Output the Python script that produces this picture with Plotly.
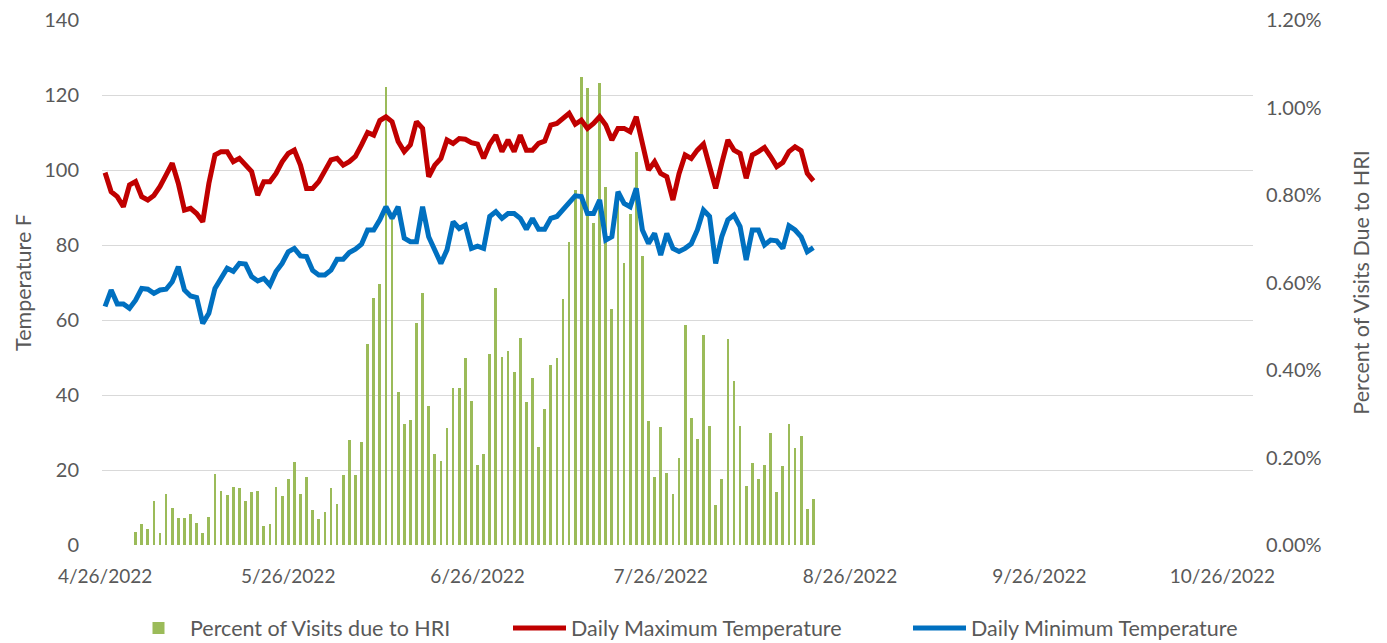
import pandas as pd
import plotly.graph_objects as go

# Daily values, 4/26/2022 .. 8/20/2022
tmax = [99.3, 94.2, 92.9, 90.2, 96.0, 96.9, 92.9, 92.0, 93.2, 95.6,
        98.7, 101.8, 96.4, 89.3, 89.8, 88.4, 86.2, 96.4, 104.0, 104.9,
        104.9, 102.2, 103.1, 101.5, 99.6, 93.3, 96.9, 96.9, 99.1, 102.2,
        104.4, 105.3, 101.3, 95.1, 95.1, 96.9, 99.6, 102.7, 103.1, 101.3,
        102.2, 103.6, 106.7, 110.0, 109.3, 113.2, 114.2, 112.9, 107.6, 104.9,
        106.7, 112.9, 111.1, 98.2, 101.3, 103.1, 108.0, 107.1, 108.4, 108.2,
        107.3, 106.9, 103.1, 106.9, 109.3, 104.9, 108.0, 104.9, 109.3, 105.3,
        105.3, 107.1, 107.7, 112.0, 112.4, 113.8, 115.1, 112.2, 113.3, 111.1,
        112.4, 114.2, 112.0, 108.0, 111.1, 111.1, 110.2, 114.2, 107.6, 100.0,
        102.2, 99.1, 98.2, 92.0, 99.0, 104.0, 103.1, 105.3, 106.9, 100.9,
        95.1, 101.8, 108.0, 105.3, 104.4, 97.8, 104.0, 104.9, 106.0, 103.6,
        100.9, 102.0, 104.9, 106.2, 105.2, 99.1, 97.1]

tmin = [63.6, 68.0, 64.3, 64.3, 63.1, 65.3, 68.4, 68.2, 67.1, 68.0,
        68.2, 70.2, 74.2, 68.0, 66.4, 66.0, 59.1, 61.8, 68.4, 71.1,
        73.8, 73.0, 75.1, 74.9, 71.6, 70.4, 71.1, 69.3, 72.9, 75.1,
        78.2, 79.1, 77.1, 76.9, 73.2, 72.0, 72.0, 73.3, 76.2, 76.2,
        78.0, 78.9, 80.2, 84.0, 84.0, 86.7, 90.2, 87.1, 90.2, 81.8,
        80.9, 80.9, 90.2, 82.2, 78.7, 75.1, 78.7, 86.2, 84.4, 85.3,
        79.1, 79.7, 79.1, 87.6, 88.9, 87.1, 88.4, 88.4, 87.1, 84.2,
        87.1, 84.2, 84.2, 87.1, 87.6, 89.3, 91.1, 93.1, 92.9, 88.4,
        88.4, 92.0, 81.3, 82.2, 94.2, 91.1, 90.2, 95.1, 84.0, 80.4,
        83.1, 77.3, 83.1, 79.1, 78.3, 79.1, 80.3, 84.0, 89.3, 87.6,
        75.1, 82.2, 86.7, 88.0, 84.9, 76.0, 84.0, 84.0, 80.0, 81.3,
        81.1, 79.1, 85.1, 84.0, 82.2, 78.2, 79.3]

# Percent of visits due to HRI (in percent units)
hri_pct = [None, None, None, None, None, 0.030, 0.048, 0.037, 0.101, 0.027,
           0.117, 0.085, 0.061, 0.061, 0.071, 0.050, 0.027, 0.063, 0.162, 0.124,
           0.114, 0.132, 0.130, 0.101, 0.122, 0.124, 0.043, 0.047, 0.132, 0.112,
           0.150, 0.190, 0.117, 0.155, 0.080, 0.059, 0.075, 0.130, 0.094, 0.160,
           0.240, 0.160, 0.235, 0.459, 0.564, 0.597, 1.048, 0.745, 0.350, 0.277,
           0.286, 0.508, 0.575, 0.318, 0.208, 0.193, 0.267, 0.358, 0.360, 0.427,
           0.329, 0.184, 0.208, 0.437, 0.587, 0.430, 0.443, 0.396, 0.474, 0.328,
           0.381, 0.223, 0.312, 0.411, 0.427, 0.562, 0.693, 0.811, 1.070, 1.044,
           0.735, 1.055, 0.819, 0.539, 0.800, 0.645, 0.757, 0.899, 0.661, 0.284,
           0.156, 0.270, 0.164, 0.117, 0.200, 0.503, 0.291, 0.242, 0.480, 0.272,
           0.091, 0.151, 0.471, 0.375, 0.272, 0.136, 0.188, 0.152, 0.184, 0.255,
           0.122, 0.181, 0.277, 0.221, 0.250, 0.082, 0.105]

dates = pd.date_range("2022-04-26", periods=len(tmax), freq="D")
hri = [None if v is None else v / 100 for v in hri_pct]

xtick_vals = ["2022-04-26", "2022-05-26", "2022-06-26", "2022-07-26",
              "2022-08-26", "2022-09-26", "2022-10-26"]
xtick_text = ["4/26/2022", "5/26/2022", "6/26/2022", "7/26/2022",
              "8/26/2022", "9/26/2022", "10/26/2022"]

FONT = "Lato"
GREY = "#595959"
W, H = 1387, 643

fig = go.Figure()
fig.add_trace(go.Bar(x=dates, y=hri, name="Percent of Visits due to HRI",
                     marker=dict(color="#9BBB59", line=dict(width=0)),
                     width=0.45 * 86400000, yaxis="y", legend="legend"))
fig.add_trace(go.Scatter(x=dates, y=tmax, name="Daily Maximum Temperature",
                         mode="lines", line=dict(color="#C00000", width=5),
                         yaxis="y2", legend="legend2"))
fig.add_trace(go.Scatter(x=dates, y=tmin, name="Daily Minimum Temperature",
                         mode="lines", line=dict(color="#0070C0", width=5),
                         yaxis="y2", legend="legend3"))


def leg(xpix):
    return dict(orientation="h", xref="container", yref="container",
                x=xpix / W, xanchor="left", y=(H - 628) / H, yanchor="middle",
                font=dict(size=21.5, color=GREY), itemwidth=53,
                bgcolor="rgba(0,0,0,0)")


fig.update_layout(
    width=W, height=H,
    margin=dict(l=102, r=134, t=20, b=98, autoexpand=False),
    paper_bgcolor="white", plot_bgcolor="white",
    font=dict(family=FONT, size=19, color=GREY),
    bargap=0,
    xaxis=dict(type="date", range=["2022-04-25 12:00", "2022-10-31 00:00"],
               tickvals=xtick_vals, ticktext=xtick_text, showgrid=False,
               showline=False, zeroline=False, ticks="", ticklabelstandoff=18,
               tickfont=dict(size=19, color=GREY)),
    yaxis=dict(range=[0, 0.012], dtick=0.002, tickformat=".2%", side="right",
               showgrid=False, zeroline=False, showline=False, ticks="",
               ticklabelstandoff=12,
               title=dict(text="Percent of Visits Due to HRI", standoff=33,
                          font=dict(size=21.5, color=GREY)),
               tickfont=dict(size=20, color=GREY)),
    yaxis2=dict(range=[0, 140], dtick=20, side="left", overlaying="y",
                showgrid=True, gridcolor="#d9d9d9", gridwidth=1.3,
                zeroline=False, showline=False, ticks="",
                ticklabelstandoff=22,
                title=dict(text="Temperature F", standoff=6,
                           font=dict(size=21.5, color=GREY)),
                tickfont=dict(size=20, color=GREY)),
    legend=leg(127),
    legend2=leg(508),
    legend3=leg(908),
    showlegend=True,
)

fig.write_html("out.html", config={"displayModeBar": False},
               post_script="document.body.style.margin='0';")
